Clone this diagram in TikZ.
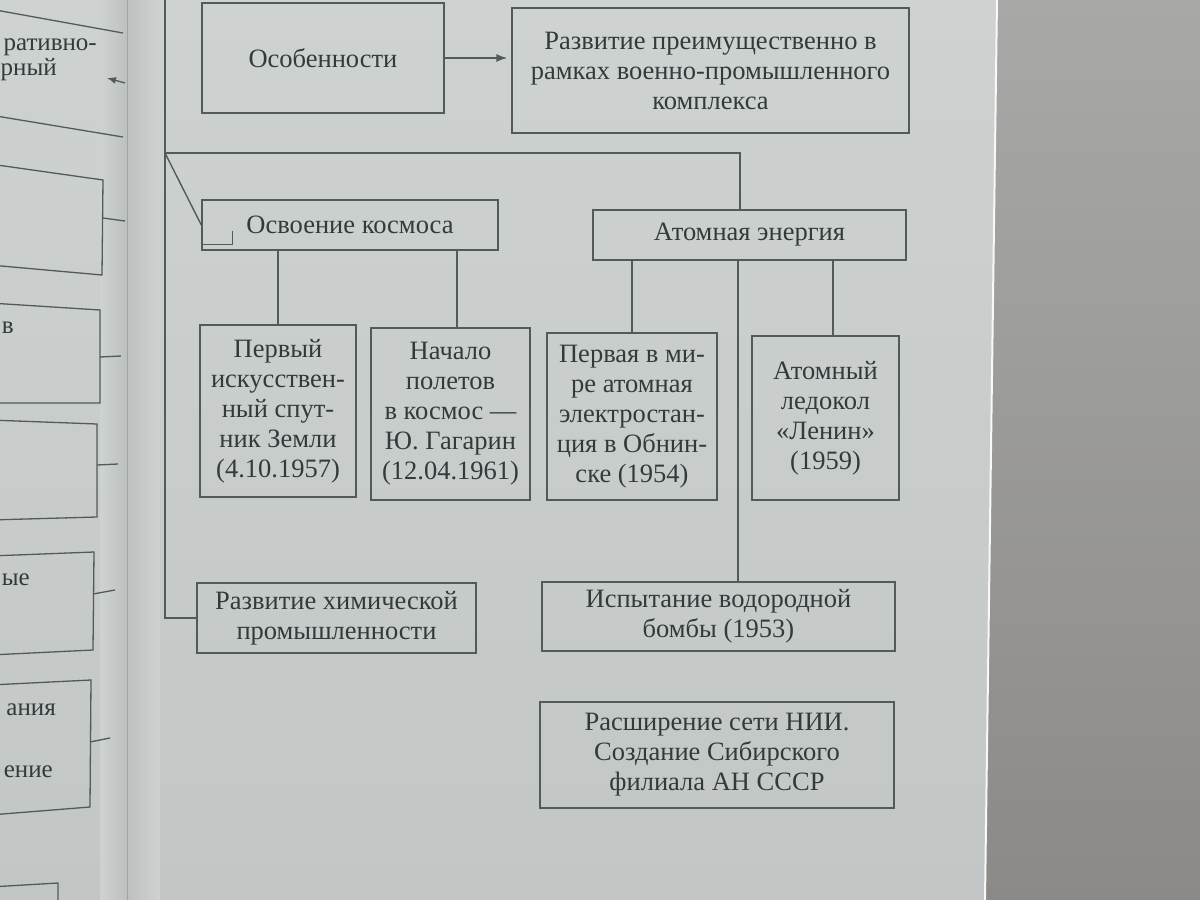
\documentclass[tikz,border=0pt]{standalone}
\usepackage{fontspec}
\setmainfont{Liberation Serif}
\usetikzlibrary{arrows.meta,calc}
\definecolor{pagetop}{RGB}{206,211,210}
\definecolor{pagebot}{RGB}{194,199,198}
\definecolor{bgtop}{RGB}{168,169,167}
\definecolor{bgbot}{RGB}{140,138,135}
\definecolor{linec}{RGB}{84,89,89}
\definecolor{textc}{RGB}{52,57,59}
\definecolor{gutter}{RGB}{188,193,192}
\tikzset{
  box/.style={draw=linec, line width=1.4pt, align=center, text=textc, inner sep=0pt,
    font=\fontsize{26.5}{30}\selectfont},
  conn/.style={draw=linec, line width=1.4pt},
  frag/.style={text=textc, inner sep=0pt, anchor=east, font=\fontsize{25}{28}\selectfont},
  lconn/.style={draw=linec, line width=1.3pt}
}
\begin{document}
\begin{tikzpicture}[x=1pt,y=-1pt]
\useasboundingbox (0,0) rectangle (1200,900);
% backdrop and page
\shade[top color=bgtop, bottom color=bgbot] (0,0) rectangle (1200,900);
\shade[top color=pagetop, bottom color=pagebot] (0,0) -- (997,0) -- (985,900) -- (0,900) -- cycle;
\draw[white!85!pagetop, line width=2pt] (997,0) -- (985,900);
% gutter
\shade[left color=pagetop, right color=gutter] (100,0) rectangle (127,900);
\shade[left color=gutter, right color=pagetop] (127,0) rectangle (160,900);
\draw[gutter!85!black, line width=0.8pt] (127,0) -- (127,900);

% ---- left page fragments ----
\begin{scope}
\clip (0,0) rectangle (125,900);
\node[frag] (lt1) at (97,47) {ративно-};
\node[frag] (lt2) at (57,70) {рный};
\draw[lconn] (-10,9) -- (123,33);
\draw[lconn] (-10,115) -- (123,137);
\coordinate (la0) at (125,83);
\coordinate (la1) at (107,78);
\draw[lconn, -{Latex[length=9pt,width=7pt]}] (la0) -- (la1);
% box 2
\draw[lconn] (-10,164) -- (103,180) -- (102,275) -- (-10,265);
\coordinate (lc2) at (103,218); \coordinate (lc2e) at (125,221);
\draw[lconn] (lc2) -- (lc2e);
% box 3
\draw[lconn] (-10,303) -- (100,310) -- (100,403) -- (-10,403);
\node[frag] (lt3) at (14,328) {в};
\coordinate (lc3) at (100,357); \coordinate (lc3e) at (121,356);
\draw[lconn] (lc3) -- (lc3e);
% box 4
\draw[lconn] (-10,420) -- (97,424) -- (97,517) -- (-10,520);
\coordinate (lc4) at (97,465); \coordinate (lc4e) at (118,464);
\draw[lconn] (lc4) -- (lc4e);
% box 5
\draw[lconn] (-10,556) -- (94,552) -- (93,650) -- (-10,655);
\node[frag] (lt5) at (30,580) {ые};
\coordinate (lc5) at (93,594); \coordinate (lc5e) at (115,590);
\draw[lconn] (lc5) -- (lc5e);
% box 6
\draw[lconn] (-10,685) -- (91,680) -- (90,807) -- (-10,815);
\node[frag] (lt6) at (56,710) {ания};
\node[frag] (lt7) at (53,772) {ение};
\coordinate (lc6) at (90,742); \coordinate (lc6e) at (110,738);
\draw[lconn] (lc6) -- (lc6e);
% box 7
\draw[lconn] (-10,887) -- (58,883) -- (58,905);
\end{scope}

% ---- main diagram ----
\node[box, minimum width=242pt, minimum height=110pt] (feat) at (323,58) {Особенности};
\node[box, minimum width=397pt, minimum height=125pt] (dev) at (710.5,70.5)
  {Развитие преимущественно в\\рамках военно-промышленного\\комплекса};
\node[box, minimum width=296pt, minimum height=50pt] (kos) at (350,225) {Освоение космоса};
\node[box, minimum width=313pt, minimum height=50pt] (atom) at (749.5,235) {Атомная энергия};
\node[box, minimum width=156pt, minimum height=172pt] (sput) at (278,411)
  {Первый\\искусствен-\\ный спут-\\ник Земли\\(4.10.1957)};
\node[box, minimum width=159pt, minimum height=172pt] (gag) at (450.5,414)
  {Начало\\полетов\\в космос —\\Ю. Гагарин\\(12.04.1961)};
\node[box, minimum width=170pt, minimum height=167pt] (aes) at (632,416.5)
  {Первая в ми-\\ре атомная\\электростан-\\ция в Обнин-\\ске (1954)};
\node[box, minimum width=147pt, minimum height=164pt] (led) at (825.5,418)
  {Атомный\\ледокол\\«Ленин»\\(1959)};
\node[box, minimum width=279pt, minimum height=70pt] (chem) at (336.5,618)
  {Развитие химической\\промышленности};
\node[box, minimum width=353pt, minimum height=69pt] (bomb) at (718.5,616.5)
  {Испытание водородной\\бомбы (1953)};
\node[box, minimum width=354pt, minimum height=106pt] (nii) at (717,755)
  {Расширение сети НИИ.\\Создание Сибирского\\филиала АН СССР};

% arrow
\draw[conn, -{Latex[length=11pt,width=8pt]}, shorten >=4pt] (feat.east) -- (feat.east -| dev.west);
% trunk
\coordinate (trunk) at (165,-5);
\coordinate (br) at (165,153);
\coordinate (atap) at (740,153);
\draw[conn] (trunk) |- (chem.west);
\draw[conn] (br) -- (atap) -- (atap |- atom.north);
\draw[conn] (br) -- (kos.west);
% notch inside kos
\draw[linec, line width=1.2pt] ([xshift=1pt,yshift=6pt]kos.south west) -| ([xshift=31pt,yshift=20pt]kos.south west);
% space branch
\draw[conn] (sput.north) -- (sput.north |- kos.south);
\draw[conn] ([xshift=6.5pt]gag.north) -- ([xshift=6.5pt]gag.north |- kos.south);
% atom branch
\draw[conn] (aes.north) -- (aes.north |- atom.south);
\draw[conn] ([xshift=19.5pt]bomb.north) -- ([xshift=19.5pt]bomb.north |- atom.south);
\draw[conn] ([xshift=7.5pt]led.north) -- ([xshift=7.5pt]led.north |- atom.south);
\end{tikzpicture}
\end{document}
